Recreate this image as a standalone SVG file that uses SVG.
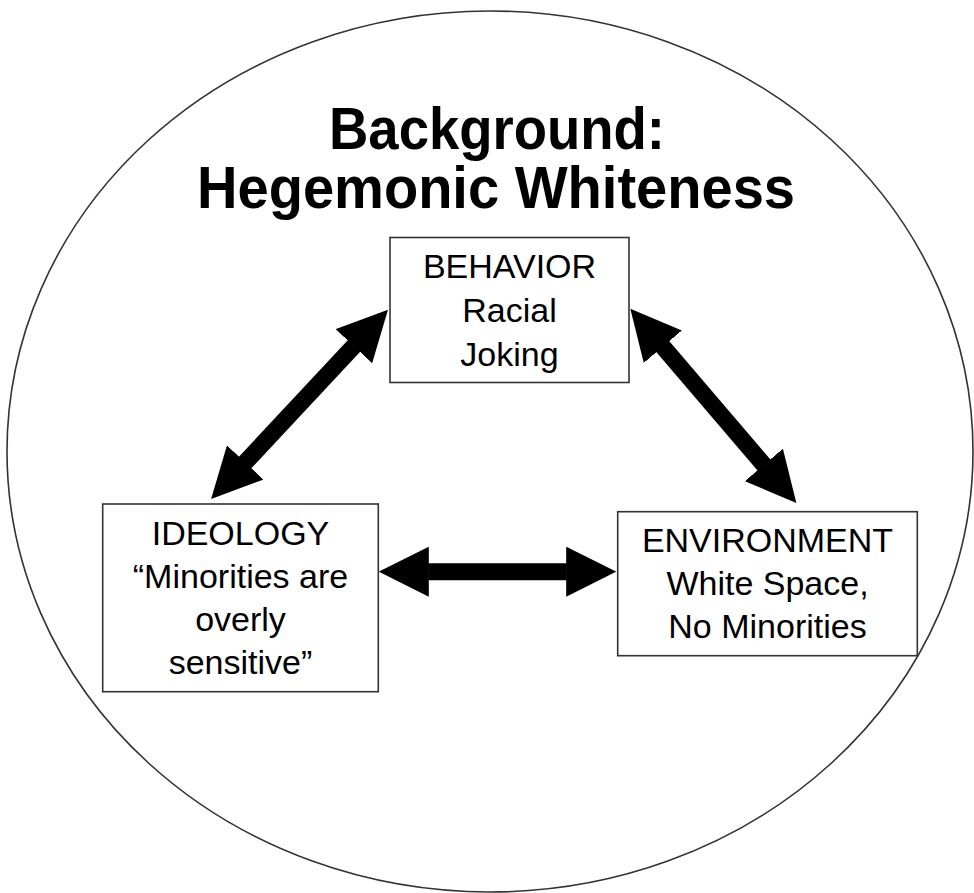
<svg xmlns="http://www.w3.org/2000/svg" width="974" height="893" viewBox="0 0 974 893">
<style>
.bg{fill:#fff}
.ring{fill:none;stroke:#333;stroke-width:1.6}
.box{fill:#fff;stroke:#333;stroke-width:1.6}
.lbl{font-family:"Liberation Sans",Arial,sans-serif;font-size:34px;fill:#000;text-anchor:middle}
.title{font-family:"Liberation Sans",Arial,sans-serif;font-size:60px;font-weight:bold;fill:#000;text-anchor:middle}
.arr{stroke:#000;stroke-width:17;fill:none;marker-start:url(#head);marker-end:url(#head)}
</style>
<defs>
<marker id="head" markerUnits="userSpaceOnUse" markerWidth="50" markerHeight="50" viewBox="0 0 50 50" refX="0.5" refY="25" orient="auto-start-reverse">
<path d="M0,0 L50,25 L0,50 z" fill="#000"/>
</marker>
</defs>
<rect class="bg" x="0" y="0" width="974" height="893"/>
<g id="background">
<ellipse class="ring" cx="490" cy="451.5" rx="483" ry="440.5"/>
<text class="title" x="497" y="149" textLength="336" lengthAdjust="spacingAndGlyphs">Background:</text>
<text class="title" x="496" y="208" textLength="598" lengthAdjust="spacingAndGlyphs">Hegemonic Whiteness</text>
</g>
<g id="connectors">
<line class="arr" x1="244.9" y1="462.8" x2="354.2" y2="345.8"/>
<line class="arr" x1="662.5" y1="346.3" x2="764.2" y2="465.3"/>
<line class="arr" x1="428.3" y1="571.7" x2="566.7" y2="571.7"/>
</g>
<g id="behavior">
<rect class="box" x="390" y="237.5" width="239" height="145"/>
<text class="lbl" x="509.5" y="278">BEHAVIOR</text>
<text class="lbl" x="509.5" y="322">Racial</text>
<text class="lbl" x="509.5" y="366">Joking</text>
</g>
<g id="ideology">
<rect class="box" x="102.7" y="504" width="275.6" height="187.7"/>
<text class="lbl" x="240.5" y="545">IDEOLOGY</text>
<text class="lbl" x="240.5" y="588">“Minorities are</text>
<text class="lbl" x="240.5" y="631">overly</text>
<text class="lbl" x="240.5" y="674">sensitive”</text>
</g>
<g id="environment">
<rect class="box" x="617.7" y="511.7" width="299.6" height="144"/>
<text class="lbl" x="767.5" y="552">ENVIRONMENT</text>
<text class="lbl" x="767.5" y="595">White Space,</text>
<text class="lbl" x="767.5" y="638">No Minorities</text>
</g>
</svg>
